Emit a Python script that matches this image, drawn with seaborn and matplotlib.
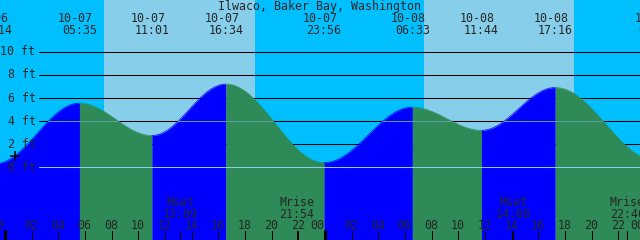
import matplotlib
matplotlib.use("Agg")
import matplotlib.pyplot as plt
from matplotlib.patches import Polygon
import seaborn as sns
import numpy as np

# ---------------- data ----------------
title = "Ilwaco, Baker Bay, Washington"
tide_times = ["10-06 23:14", "10-07 05:35", "10-07 11:01", "10-07 16:34",
              "10-07 23:56", "10-08 06:33", "10-08 11:44", "10-08 17:16",
              "10-09 00:48"]
tide_heights = [0.3, 5.55, 2.75, 7.2, 0.4, 5.2, 3.2, 6.9, 0.6]   # ft
sunrise_times = ["10-07 07:25", "10-08 07:25"]
sunset_times = ["10-07 18:45", "10-08 18:40"]
moon_names = ["Mset", "Mrise", "Mset", "Mrise"]
moon_times = ["10-07 13:09", "10-07 21:54", "10-08 14:08", "10-08 22:40"]
hour_ticks = list(range(0, 49, 2))                      # hours from 10-07 00:00
hour_labels = [f"{h % 24:02d}" for h in hour_ticks]
level_ticks = [10, 8, 6, 4, 2, 0]
level_labels = ["10 ft", "8 ft", "6 ft", "4 ft", "2 ft", "0 ft"]
msl_level = 4.0
datum_level = 0.0

# ---------------- style ----------------
NIGHT = "#00BFFF"
DAY = "#87CEEB"
FLOOD = "#0000FF"
EBB = "#2E8B57"
MSL_COLOR = "#5F9EA0"
DATUM_COLOR = "#87CEEB"
FS = 8.4
MONO = ["DejaVu Sans Mono"]
W, H = 640, 240

sns.set_style("white")
plt.rcParams["font.family"] = MONO


def to_hours(s):
    md, hm = s.split(" ")
    day = int(md.split("-")[1]) - 7
    hh, mm = hm.split(":")
    return day * 24 + int(hh) + int(mm) / 60.0


t_ext = [to_hours(s) for s in tide_times]
x0 = -5 / 13.3333
XLIM = (x0, x0 + 48)
YLIM = (-(H - 167.3) / 11.56, 167.3 / 11.56)

fig = plt.figure(figsize=(W / 100, H / 100), dpi=100)
ax = fig.add_axes([0, 0, 1, 1])
ax.set_xlim(*XLIM)
ax.set_ylim(*YLIM)
ax.axis("off")

# background night / day
ax.axvspan(XLIM[0], XLIM[1], color=NIGHT, lw=0, zorder=0)
for r, s in zip(sunrise_times, sunset_times):
    ax.axvspan(to_hours(r), to_hours(s), color=DAY, lw=0, zorder=0.5)

# black level lines (over the sky)
for lv in level_ticks:
    ax.axhline(lv, xmin=39 / W, xmax=1, color="black", lw=0.75, zorder=1)

# water: rising (flood) / falling (ebb) between successive extremes
curve_x, curve_y = [], []
for i in range(len(t_ext) - 1):
    ta, tb = t_ext[i], t_ext[i + 1]
    ha, hb = tide_heights[i], tide_heights[i + 1]
    ts = np.linspace(ta, tb, 240)
    hs = ha + (hb - ha) * (1 - np.cos(np.pi * (ts - ta) / (tb - ta))) / 2
    col = FLOOD if hb > ha else EBB
    ax.fill_between(ts, YLIM[0], hs, color=col, lw=0, zorder=2)
    sns.lineplot(x=ts, y=hs, color=col, lw=0.5, ax=ax, zorder=2, sort=False)
    curve_x.extend(ts)
    curve_y.extend(hs)

water = Polygon([(curve_x[0], YLIM[0])] + list(zip(curve_x, curve_y)) +
                [(curve_x[-1], YLIM[0])], closed=True, facecolor="none",
                edgecolor="none", transform=ax.transData)
ax.add_patch(water)
for lv, c in [(msl_level, MSL_COLOR), (datum_level, DATUM_COLOR)]:
    ln = ax.axhline(lv, xmin=39 / W, xmax=1, color=c, lw=0.75, zorder=3)
    ln.set_clip_path(water)

# plus mark
ax.plot([15 / W], [1 - 156 / H], marker="+", ms=7, mew=1.1, color="black",
        transform=ax.transAxes, zorder=5)

# level labels
for lv, lab in zip(level_ticks, level_labels):
    ax.annotate(lab, xy=(35.5 / W, lv), xycoords=("axes fraction", "data"),
                xytext=(0, -3.6), textcoords="offset pixels", ha="right",
                va="baseline", fontsize=FS, family=MONO, zorder=6,
                annotation_clip=False)

# title
ax.text(0.5, 1 - 10 / H, title, transform=ax.transAxes, ha="center",
        va="baseline", fontsize=FS, family=MONO, zorder=6)

# tide event labels at the top
for s in tide_times:
    t = to_hours(s)
    date, tm = s.split(" ")
    ax.annotate(date, xy=(t, 1 - 21.7 / H), xycoords=("data", "axes fraction"),
                xytext=(-4, 0), textcoords="offset pixels", ha="center",
                va="baseline", fontsize=FS, family=MONO, zorder=6,
                annotation_clip=False)
    ax.annotate(tm, xy=(t, 1 - 34 / H), xycoords=("data", "axes fraction"),
                ha="center", va="baseline", fontsize=FS, family=MONO,
                zorder=6, annotation_clip=False)

# hour ticks and labels
for h, lab in zip(hour_ticks, hour_labels):
    midnight = (h % 24 == 0)
    ax.axvline(h, ymin=0, ymax=9 / H, color="black",
               lw=2.2 if midnight else 0.75, zorder=6)
    ax.annotate(lab, xy=(h, 1 - 229.3 / H), xycoords=("data", "axes fraction"),
                xytext=(-7.5 if midnight else -0.5, 0), textcoords="offset pixels",
                ha="center", va="baseline", fontsize=FS, family=MONO, zorder=6,
                annotation_clip=False)

# moon events
for name, s in zip(moon_names, moon_times):
    t = to_hours(s)
    ax.axvline(t, ymin=0, ymax=9 / H, color="black", lw=0.75, zorder=6)
    ax.annotate(name, xy=(t, 1 - 206 / H), xycoords=("data", "axes fraction"),
                ha="center", va="baseline", fontsize=FS, family=MONO, zorder=6,
                annotation_clip=False)
    ax.annotate(s.split(" ")[1], xy=(t, 1 - 218 / H),
                xycoords=("data", "axes fraction"), ha="center", va="baseline",
                fontsize=FS, family=MONO, zorder=6, annotation_clip=False)

fig.savefig("out.png", dpi=100)
